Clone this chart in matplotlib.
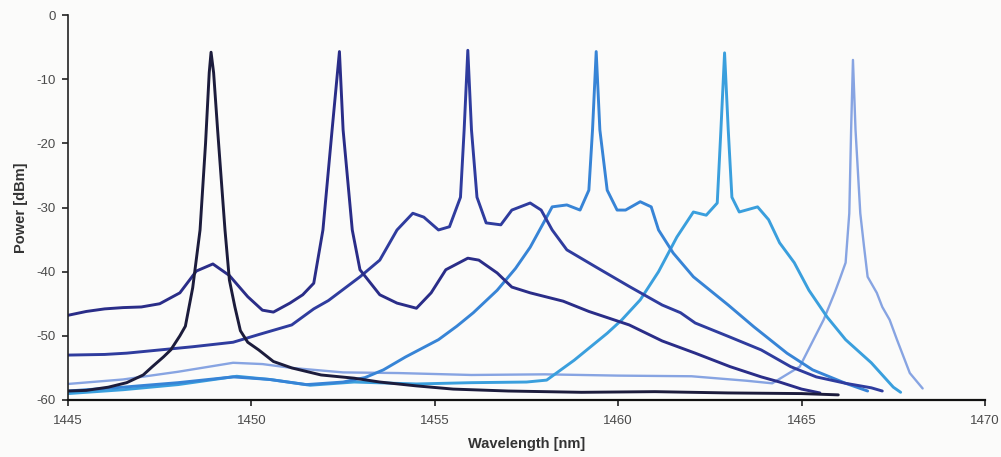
import matplotlib
matplotlib.use("Agg")
import matplotlib.pyplot as plt

# Optical spectra of six laser lines (wavelength in nm, power in dBm)
wl_1449 = [1445.0, 1445.5, 1446.1, 1446.6, 1447.05, 1447.3, 1447.6, 1447.8, 1448.05,
           1448.2, 1448.4, 1448.6, 1448.75, 1448.85, 1448.9, 1448.97, 1449.08, 1449.28,
           1449.4, 1449.55, 1449.7, 1449.9, 1450.2, 1450.6, 1451.1, 1451.9, 1452.8,
           1453.5, 1454.5, 1455.5, 1457.0, 1459.0, 1461.0, 1463.0, 1465.0, 1466.0]
p_1449 = [-58.6, -58.5, -58.0, -57.3, -56.1, -54.8, -53.3, -52.2, -50.0,
          -48.5, -42.5, -33.5, -20.0, -9.0, -5.8, -9.0, -18.0, -33.5,
          -41.3, -45.5, -49.2, -51.0, -52.2, -54.0, -55.0, -56.1, -56.6,
          -57.2, -57.8, -58.3, -58.6, -58.8, -58.7, -58.9, -59.0, -59.2]

wl_1452 = [1445.0, 1445.5, 1446.0, 1446.5, 1447.0, 1447.5, 1448.05, 1448.5, 1448.95,
           1449.4, 1449.9, 1450.3, 1450.6, 1451.05, 1451.4, 1451.7, 1451.95, 1452.2,
           1452.4, 1452.5, 1452.75, 1452.96, 1453.5, 1453.97, 1454.5, 1454.9, 1455.3,
           1455.9, 1456.2, 1456.7, 1457.1, 1457.6, 1458.5, 1459.2, 1460.3, 1461.2,
           1462.1, 1463.05, 1463.9, 1464.4, 1465.0, 1465.5]
p_1452 = [-46.8, -46.2, -45.8, -45.6, -45.5, -45.0, -43.3, -39.9, -38.8,
          -40.6, -43.9, -46.0, -46.3, -44.9, -43.6, -41.8, -33.5, -17.9,
          -5.7, -17.9, -33.5, -39.7, -43.6, -44.9, -45.7, -43.3, -39.7,
          -37.9, -38.2, -40.2, -42.4, -43.3, -44.6, -46.2, -48.3, -50.8,
          -52.7, -54.8, -56.4, -57.2, -58.3, -58.9]

wl_1456 = [1445.0, 1446.0, 1446.6, 1447.5, 1448.4, 1449.5, 1450.2, 1450.8, 1451.1,
           1451.7, 1452.1, 1452.96, 1453.5, 1453.97, 1454.4, 1454.7, 1455.1, 1455.4,
           1455.7, 1455.8, 1455.9, 1456.0, 1456.15, 1456.4, 1456.8, 1457.1, 1457.6,
           1457.9, 1458.2, 1458.6, 1459.4, 1460.3, 1461.2, 1461.7, 1462.1, 1463.05,
           1463.9, 1464.7, 1465.4, 1466.2, 1466.9, 1467.2]
p_1456 = [-53.0, -52.9, -52.7, -52.2, -51.7, -51.0, -49.8, -48.8, -48.3,
          -45.8, -44.5, -40.8, -38.2, -33.5, -30.9, -31.5, -33.5, -33.0,
          -28.4, -17.9, -5.5, -17.9, -28.4, -32.4, -32.7, -30.4, -29.3,
          -30.4, -33.5, -36.6, -39.3, -42.3, -45.2, -46.4, -48.0, -50.2,
          -52.2, -54.8, -56.4, -57.4, -58.1, -58.6]

wl_1459 = [1445.0, 1446.5, 1448.0, 1449.5, 1450.5, 1451.5, 1452.5, 1453.1, 1453.6,
           1454.2, 1455.1, 1455.6, 1456.05, 1456.7, 1457.2, 1457.6, 1458.05, 1458.2,
           1458.6, 1458.96, 1459.2, 1459.3, 1459.4, 1459.5, 1459.7, 1459.97, 1460.2,
           1460.6, 1460.9, 1461.1, 1461.5, 1462.05, 1463.0, 1463.7, 1464.6, 1465.3,
           1466.2, 1466.8]
p_1459 = [-58.6, -58.0, -57.3, -56.4, -56.8, -57.6, -57.2, -56.5, -55.3,
          -53.3, -50.6, -48.5, -46.4, -42.9, -39.5, -36.2, -31.5, -29.9,
          -29.6, -30.4, -27.3, -17.9, -5.7, -17.9, -27.3, -30.4, -30.4,
          -29.1, -29.9, -33.5, -37.1, -40.8, -45.2, -48.6, -52.7, -55.3,
          -57.4, -58.6]

wl_1463 = [1445.0, 1446.5, 1448.0, 1449.6, 1450.5, 1451.6, 1452.8, 1454.5, 1456.0,
           1457.5, 1458.05, 1458.8, 1459.4, 1459.7, 1460.1, 1460.6, 1461.1, 1461.6,
           1462.05, 1462.4, 1462.7, 1462.8, 1462.9, 1463.0, 1463.1, 1463.3, 1463.8,
           1464.1, 1464.4, 1464.8, 1465.2, 1465.7, 1466.2, 1466.9, 1467.5, 1467.7]
p_1463 = [-59.0, -58.4, -57.6, -56.3, -56.8, -57.7, -57.2, -57.5, -57.3,
          -57.2, -56.9, -53.8, -51.0, -49.6, -47.5, -44.4, -40.0, -34.6,
          -30.7, -31.2, -29.3, -17.9, -5.9, -17.9, -28.4, -30.7, -29.9,
          -31.9, -35.5, -38.6, -42.9, -47.1, -50.6, -54.2, -58.0, -58.8]

wl_1466 = [1445.0, 1446.5, 1448.0, 1449.5, 1450.3, 1451.1, 1452.5, 1454.0, 1456.0,
           1458.0, 1460.0, 1462.0, 1463.5, 1464.2, 1464.95, 1465.6, 1465.9, 1466.05,
           1466.2, 1466.3, 1466.35, 1466.4, 1466.47, 1466.6, 1466.7, 1466.8, 1467.05,
           1467.2, 1467.4, 1467.6, 1467.95, 1468.3]
p_1466 = [-57.5, -56.8, -55.6, -54.2, -54.4, -55.0, -55.7, -55.8, -56.1,
          -56.0, -56.2, -56.3, -57.0, -57.4, -54.8, -47.5, -43.3, -41.0,
          -38.6, -30.9, -17.9, -7.0, -17.9, -30.9, -36.0, -40.8, -43.3,
          -45.5, -47.5, -50.6, -55.8, -58.2]

x_ticks = [1445, 1450, 1455, 1460, 1465, 1470]
y_ticks = [-60, -50, -40, -30, -20, -10, 0]

plt.rcParams['font.family'] = ['Liberation Sans', 'DejaVu Sans']
plt.rcParams['axes.unicode_minus'] = False

bg = '#fbfbfa'
fig = plt.figure(figsize=(10.01, 4.57), dpi=100, facecolor=bg)
ax = fig.add_axes([68 / 1001, 57 / 457, 917 / 1001, 385 / 457])
ax.set_facecolor(bg)

series = [
    (wl_1466, p_1466, '#87a4e2', 1.7),
    (wl_1463, p_1463, '#3a9fdd', 2.1),
    (wl_1459, p_1459, '#3784d6', 2.1),
    (wl_1456, p_1456, '#2f3c9e', 2.1),
    (wl_1452, p_1452, '#2a2d88', 2.1),
    (wl_1449, p_1449, '#1c1c3c', 2.1),
]
for wl, p, c, lw in series:
    ax.plot(wl, p, color=c, lw=lw, solid_joinstyle='round', solid_capstyle='round')

ax.set_xlim(1445, 1470)
ax.set_ylim(-60, 0)
ax.set_xticks(x_ticks)
ax.set_yticks(y_ticks)

for side in ('top', 'right'):
    ax.spines[side].set_visible(False)
ax.spines['left'].set_color('#222222')
ax.spines['left'].set_linewidth(1.2)
ax.spines['bottom'].set_color('#111111')
ax.spines['bottom'].set_linewidth(1.6)

ax.tick_params(axis='both', direction='out', length=4, width=1.2,
               color='#222222', labelsize=9.5, labelcolor='#4a4a4a')
ax.tick_params(axis='x', pad=7)
ax.tick_params(axis='y', pad=5)

ax.set_xlabel('Wavelength [nm]', fontsize=10.5, fontweight='bold', color='#333333', labelpad=7)
ax.set_ylabel('Power [dBm]', fontsize=10.5, fontweight='bold', color='#333333', labelpad=6)

fig.savefig('out.png', dpi=100, facecolor=bg)
